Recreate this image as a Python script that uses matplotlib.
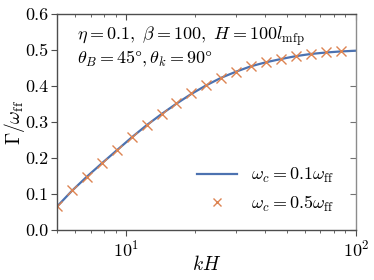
import numpy as np
import matplotlib
matplotlib.use("Agg")
import matplotlib.pyplot as plt

plt.rcParams['mathtext.fontset'] = 'cm'
plt.rcParams['font.family'] = 'serif'
plt.rcParams['font.serif'] = ['cmr10', 'DejaVu Serif']
plt.rcParams['axes.unicode_minus'] = False
plt.rcParams['axes.formatter.use_mathtext'] = True

# wave number kH and damping rate Gamma/omega_ff
kH_line = [5.0, 5.81, 6.74, 7.83, 9.09, 10.56, 12.27, 14.25, 16.55, 19.22, 22.32,
           25.93, 30.11, 34.97, 40.62, 47.18, 54.80, 63.64, 73.92, 85.85, 100.0]
gamma_line = [0.065, 0.109, 0.148, 0.185, 0.221, 0.257, 0.291, 0.322, 0.351, 0.378,
              0.402, 0.423, 0.440, 0.455, 0.466, 0.475, 0.483, 0.489, 0.493, 0.496, 0.498]

kH_pts = [5.0, 5.81, 6.74, 7.83, 9.09, 10.56, 12.27, 14.25, 16.55, 19.22,
          22.32, 25.93, 30.11, 34.97, 40.62, 47.18, 54.80, 63.64, 73.92, 85.85]
gamma_pts = [0.067, 0.110, 0.148, 0.185, 0.222, 0.258, 0.292, 0.322, 0.352, 0.380,
             0.403, 0.423, 0.440, 0.456, 0.466, 0.475, 0.483, 0.489, 0.494, 0.496]

yticks = [0.0, 0.1, 0.2, 0.3, 0.4, 0.5, 0.6]
ytick_labels = ['0.0', '0.1', '0.2', '0.3', '0.4', '0.5', '0.6']

fig = plt.figure(figsize=(3.74, 2.8), dpi=100)
ax = fig.add_axes([57 / 374, 1 - 230 / 280, 299 / 374, 216 / 280])

ax.plot(kH_line, gamma_line, color='#4C72B0', lw=1.6, label=r'$\omega_c = 0.1\omega_{\rm ff}$')
ax.plot(kH_pts, gamma_pts, ls='none', marker='x', ms=7, mew=1.0, color='#DD8452',
        label=r'$\omega_c = 0.5\omega_{\rm ff}$')

ax.set_xscale('log')
ax.set_xlim(5, 100)
ax.set_ylim(0, 0.6)
ax.set_yticks(yticks)
ax.set_yticklabels(ytick_labels)

for s in ax.spines.values():
    s.set_color('0.3')
    s.set_linewidth(1.0)
ax.spines['right'].set_color('0.55')

ax.tick_params(axis='both', which='both', direction='out', labelsize=13, color='0.3', pad=2)
ax.tick_params(which='major', length=4)
ax.tick_params(which='minor', length=2.5)

# top and right ticks point inward
top = ax.secondary_xaxis('top')
top.tick_params(which='both', direction='in', labeltop=False, color='0.3')
top.tick_params(which='major', length=4)
top.tick_params(which='minor', length=2.5)
top.spines['top'].set_visible(False)
right = ax.secondary_yaxis('right')
right.set_yticks(yticks)
right.tick_params(which='both', direction='in', labelright=False, color='0.45', length=4)
right.spines['right'].set_visible(False)

ax.set_xlabel(r'$kH$', fontsize=14)
ax.set_ylabel(r'$\Gamma/\omega_{\rm ff}$', fontsize=14)
ax.xaxis.set_label_coords(0.5, -0.115)
ax.yaxis.set_label_coords(-0.10, 0.5)

ax.text(0.066, 0.955, r'$\eta = 0.1,\ \beta = 100,\ H = 100 l_{\rm mfp}$',
        transform=ax.transAxes, fontsize=13, va='top')
ax.text(0.066, 0.84, r'$\theta_B = 45\degree, \theta_k = 90\degree$',
        transform=ax.transAxes, fontsize=13, va='top')

ax.legend(loc='center left', bbox_to_anchor=(0.468, 0.185), frameon=False,
          fontsize=13, handlelength=2.2, handletextpad=0.8, borderpad=0,
          borderaxespad=0, labelspacing=0.45, markerscale=0.8)

fig.savefig('out.png', dpi=100)
